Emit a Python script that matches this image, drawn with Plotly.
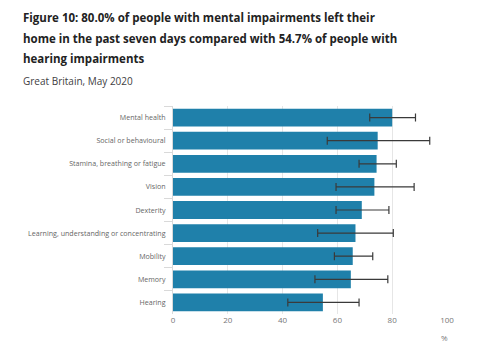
import plotly.graph_objects as go

categories = ["Mental health", "Social or behavioural", "Stamina, breathing or fatigue",
              "Vision", "Dexterity", "Learning, understanding or concentrating",
              "Mobility", "Memory", "Hearing"]
values = [80.0, 74.7, 74.3, 73.5, 68.9, 66.6, 65.6, 64.9, 54.7]
lower = [71.8, 56.3, 67.9, 59.5, 59.5, 52.8, 58.9, 51.8, 41.9]
upper = [88.5, 93.7, 81.5, 88.0, 78.8, 80.4, 72.9, 78.4, 67.9]
x_ticks = [0, 20, 40, 60, 80, 100]

title_lines = ["Figure 10: 80.0% of people with mental impairments left their",
               "home in the past seven days compared with 54.7% of people with",
               "hearing impairments"]
subtitle = "Great Britain, May 2020"

font = "Open Sans"
bar_color = "#1f80aa"

fig = go.Figure()
fig.add_trace(go.Bar(
    y=categories, x=values, orientation="h",
    marker=dict(color=bar_color, line=dict(width=0)),
    error_x=dict(type="data", symmetric=False,
                 array=[u - v for u, v in zip(upper, values)],
                 arrayminus=[v - l for v, l in zip(values, lower)],
                 color="#3a3a3a", thickness=1.2, width=4),
    hoverinfo="skip",
))

W, H = 500, 350
ml, mr, mt, mb = 173, 53, 106, 36
fig.update_layout(
    width=W, height=H,
    margin=dict(l=ml, r=mr, t=mt, b=mb),
    paper_bgcolor="white", plot_bgcolor="white",
    bargap=0.23,
    showlegend=False,
    font=dict(family=font, color="#666666", size=8),
    xaxis=dict(range=[0, 100], tickvals=x_ticks, ticktext=[str(t) for t in x_ticks],
               showgrid=True, gridcolor="#e6e6e6", gridwidth=1,
               zeroline=False, showline=False, ticks="",
               tickfont=dict(size=8, color="#777777"), fixedrange=True),
    yaxis=dict(categoryorder="array", categoryarray=categories, autorange="reversed",
               tickson="boundaries", ticks="outside", ticklen=8, tickcolor="#d9d9d9",
               showline=True, linecolor="#d9d9d9", linewidth=1,
               showgrid=False, tickfont=dict(size=7.1, color="#666666"),
               ticklabelstandoff=5),
)

annotations = []
title_y = [17, 38, 59]
for line, yy in zip(title_lines, title_y):
    annotations.append(dict(text="<b>" + line + "</b>", xref="paper", yref="paper",
                            x=(21 - ml) / (W - ml - mr), y=(H - mb - yy) / (H - mt - mb),
                            xanchor="left", yanchor="middle", showarrow=False,
                            font=dict(family=font, size=11.5, color="#222222")))
annotations.append(dict(text=subtitle, xref="paper", yref="paper",
                        x=(21 - ml) / (W - ml - mr), y=(H - mb - 81) / (H - mt - mb),
                        xanchor="left", yanchor="middle", showarrow=False,
                        font=dict(family=font, size=10, color="#414042")))
annotations.append(dict(text="%", xref="paper", yref="paper",
                        x=(444 - ml) / (W - ml - mr), y=(H - mb - 337) / (H - mt - mb),
                        xanchor="center", yanchor="middle", showarrow=False,
                        font=dict(family=font, size=8, color="#777777")))
fig.update_layout(annotations=annotations)

fig.write_html("out.html")
